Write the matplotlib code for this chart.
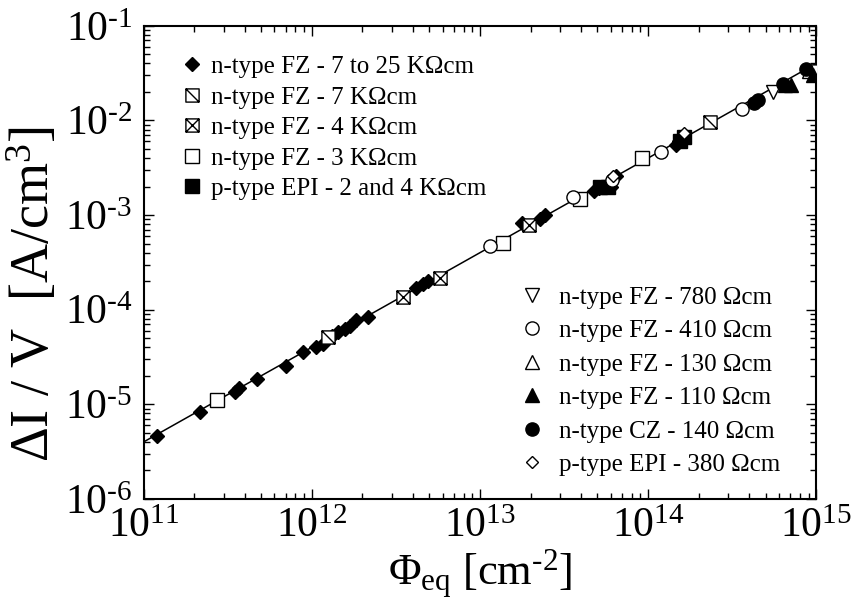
import numpy as np
import matplotlib
matplotlib.use("Agg")
import matplotlib.pyplot as plt
from matplotlib.path import Path
from matplotlib.ticker import FuncFormatter

plt.rcParams['font.family'] = ['Liberation Serif', 'DejaVu Serif']
plt.rcParams['mathtext.fontset'] = 'custom'
plt.rcParams['mathtext.rm'] = 'Liberation Serif'
plt.rcParams['mathtext.it'] = 'Liberation Serif:italic'
plt.rcParams['axes.unicode_minus'] = False

HY = u'\u2010'  # short hyphen for exponents

# fit: dI/V = alpha * phi_eq
alpha = 4.0e-17

# n-type FZ - 7 to 25 KOhm cm (filled diamonds)
fz725_x = [1.2e11, 2.18e11, 3.5e11, 3.7e11, 4.74e11, 7.0e11, 8.9e11, 1.06e12, 1.17e12,
           1.32e12, 1.44e12, 1.58e12, 1.69e12, 1.83e12, 2.17e12, 4.19e12, 4.61e12, 4.94e12,
           1.79e13, 2.29e13, 2.45e13, 4.74e13, 5.1e13, 5.98e13, 6.4e13, 1.46e14, 1.53e14]
fz725_y = [4.63e-6, 8.3e-6, 1.35e-5, 1.5e-5, 1.86e-5, 2.55e-5, 3.58e-5, 4.07e-5, 4.3e-5,
           5.3e-5, 5.8e-5, 6.3e-5, 6.8e-5, 7.8e-5, 8.45e-5, 1.7e-4, 1.85e-4, 2.0e-4,
           8.28e-4, 9.1e-4, 1.0e-3, 1.8e-3, 1.95e-3, 2.0e-3, 2.6e-3, 5.5e-3, 6.0e-3]

# n-type FZ - 7 KOhm cm
fz7_x = [1.25e12, 2.32e14, 9.27e14]
fz7_y = [5.15e-5, 9.66e-3, 3.34e-2]

# n-type FZ - 4 KOhm cm
fz4_x = [3.51e12, 5.82e12, 1.97e13]
fz4_y = [1.36e-4, 2.17e-4, 7.87e-4]

# n-type FZ - 3 KOhm cm
fz3_x = [2.74e11, 1.38e13, 3.96e13, 9.14e13]
fz3_y = [1.11e-5, 5.08e-4, 1.48e-3, 4.03e-3]

# p-type EPI - 2 and 4 KOhm cm
epi24_x = [5.21e13, 5.74e13, 1.55e14, 1.63e14]
epi24_y = [1.99e-3, 2.0e-3, 6.1e-3, 6.7e-3]

# n-type FZ - 780 Ohm cm
fz780_x = [5.5e14]
fz780_y = [2.0e-2]

# n-type FZ - 410 Ohm cm
fz410_x = [1.155e13, 3.6e13, 6.06e13, 1.2e14, 3.6e14]
fz410_y = [4.72e-4, 1.56e-3, 2.36e-3, 4.66e-3, 1.33e-2]

# n-type FZ - 130 Ohm cm
fz130_x = [9.0e14]
fz130_y = [3.3e-2]

# n-type FZ - 110 Ohm cm
fz110_x = [6.5e14, 7.05e14, 9.5e14]
fz110_y = [2.38e-2, 2.35e-2, 3.03e-2]

# n-type CZ - 140 Ohm cm
cz140_x = [4.25e14, 4.49e14, 6.3e14, 8.65e14]
cz140_y = [1.53e-2, 1.65e-2, 2.4e-2, 3.5e-2]

# p-type EPI - 380 Ohm cm
epi380_x = [6.15e13, 1.63e14]
epi380_y = [2.6e-3, 7.4e-3]

# custom square markers
sq_diag = Path([(-1, -1), (1, -1), (1, 1), (-1, 1), (-1, -1), (-1, 1), (1, -1)],
               [Path.MOVETO, Path.LINETO, Path.LINETO, Path.LINETO, Path.CLOSEPOLY,
                Path.MOVETO, Path.LINETO])
sq_cross = Path([(-1, -1), (1, -1), (1, 1), (-1, 1), (-1, -1),
                 (-1, 1), (1, -1), (-1, -1), (1, 1)],
                [Path.MOVETO, Path.LINETO, Path.LINETO, Path.LINETO, Path.CLOSEPOLY,
                 Path.MOVETO, Path.LINETO, Path.MOVETO, Path.LINETO])

fig = plt.figure(figsize=(8.57, 5.99), dpi=100)
ax = fig.add_axes([0.1675, 0.167, 0.785, 0.79])

xl = np.array([1e11, 1e15])
ax.plot(xl, alpha * xl, color='black', lw=1.1, zorder=1)

mew = 1.0
style = dict(linestyle='none', markeredgecolor='black', markeredgewidth=mew, zorder=3)
white = dict(markerfacecolor='white')
black = dict(markerfacecolor='black')

h1 = []
h1.append(ax.plot(fz725_x, fz725_y, marker='D', ms=6.8, label=u'n-type FZ - 7 to 25 K\u03a9cm', **black, **style)[0])
h1.append(ax.plot(fz7_x, fz7_y, marker=sq_diag, ms=9.5, label=u'n-type FZ - 7 K\u03a9cm', **white, **style)[0])
h1.append(ax.plot(fz4_x, fz4_y, marker=sq_cross, ms=9.5, label=u'n-type FZ - 4 K\u03a9cm', **white, **style)[0])
h1.append(ax.plot(fz3_x, fz3_y, marker='s', ms=9.5, label=u'n-type FZ - 3 K\u03a9cm', **white, **style)[0])
h1.append(ax.plot(epi24_x, epi24_y, marker='s', ms=9.5, label=u'p-type EPI - 2 and 4 K\u03a9cm', **black, **style)[0])

h2 = []
h2.append(ax.plot(fz780_x, fz780_y, marker='v', ms=10, label=u'n-type FZ - 780 \u03a9cm', **white, **style)[0])
h2.append(ax.plot(fz410_x, fz410_y, marker='o', ms=9.5, label=u'n-type FZ - 410 \u03a9cm', **white, **style)[0])
h2.append(ax.plot(fz130_x, fz130_y, marker='^', ms=10, label=u'n-type FZ - 130 \u03a9cm', **white, **style)[0])
h2.append(ax.plot(fz110_x, fz110_y, marker='^', ms=10, label=u'n-type FZ - 110 \u03a9cm', **black, **style)[0])
h2.append(ax.plot(cz140_x, cz140_y, marker='o', ms=9.5, label=u'n-type CZ - 140 \u03a9cm', **black, **style)[0])
h2.append(ax.plot(epi380_x, epi380_y, marker='D', ms=6.5, label=u'p-type EPI - 380 \u03a9cm', **white, **style)[0])

ax.set_xscale('log')
ax.set_yscale('log')
ax.set_xlim(1e11, 1e15)
ax.set_ylim(1e-6, 1e-1)


def pow10(v, pos):
    e = int(round(np.log10(v)))
    return r'$\mathdefault{10^{%s}}$' % str(e).replace('-', HY)


ax.xaxis.set_major_formatter(FuncFormatter(pow10))
ax.yaxis.set_major_formatter(FuncFormatter(pow10))

ax.set_xlabel(r'$\Phi_{\rm eq}$ [cm$^{' + HY + r'2}$]', fontsize=32)
ax.set_ylabel(r'$\Delta$I / V  [A/cm$^{3}$]', fontsize=39)
ax.xaxis.set_label_coords(0.5, -0.103)
ax.yaxis.set_label_coords(-0.123, 0.433)

ax.tick_params(which='both', direction='in', top=True, right=True, labelsize=30, width=1.0)
ax.tick_params(which='major', length=7)
ax.tick_params(axis='x', which='major', pad=6)
ax.tick_params(axis='y', which='major', pad=8)
ax.tick_params(which='minor', length=4)
for s in ax.spines.values():
    s.set_linewidth(1.5)

leg_kw = dict(frameon=False, fontsize=18, markerscale=1.0, handlelength=0.8,
              borderpad=0.0, borderaxespad=0.0, loc='upper left')
leg1 = ax.legend(handles=h1, bbox_to_anchor=(0.057, 0.937), handletextpad=0.35,
                 labelspacing=0.32, **leg_kw)
ax.add_artist(leg1)
ax.legend(handles=h2, bbox_to_anchor=(0.563, 0.45), handletextpad=0.65,
          labelspacing=0.44, **leg_kw)

fig.savefig('out.png', dpi=100)
